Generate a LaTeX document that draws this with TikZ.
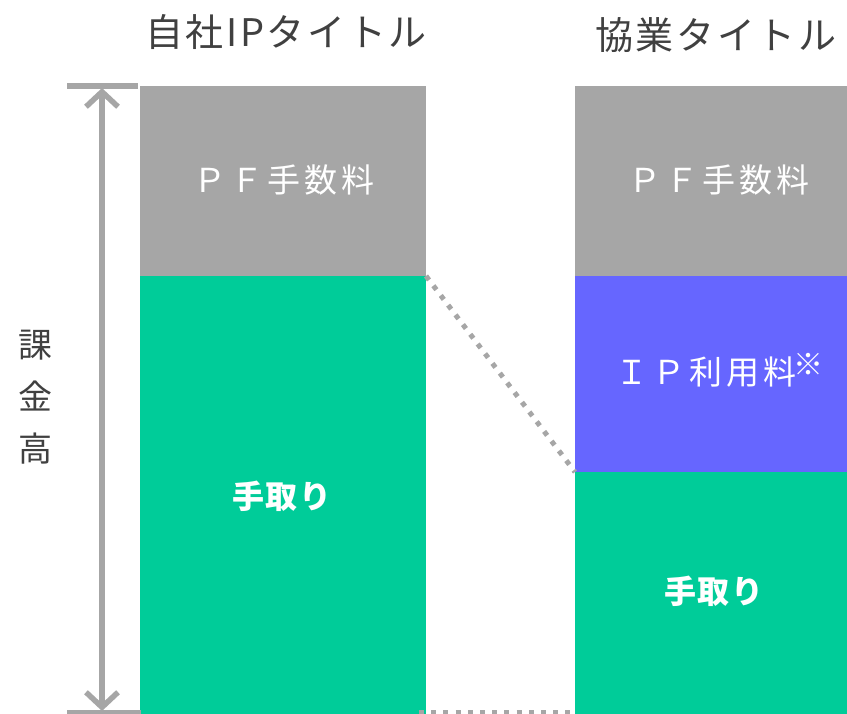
\documentclass[tikz,border=0pt]{standalone}
\usepackage{fontspec}
\setmainfont{Noto Sans CJK JP}
\usetikzlibrary{arrows.meta}
\definecolor{pfgray}{HTML}{A6A6A6}
\definecolor{takegreen}{HTML}{00CC99}
\definecolor{ipblue}{HTML}{6666FF}
\definecolor{txtgray}{HTML}{404040}
\tikzset{
  bar/.style={draw=none, inner sep=0pt, outer sep=0pt, anchor=north west},
  boxtext/.style={text=white, inner sep=0pt, font=\fontsize{33}{36}\selectfont\addfontfeature{LetterSpace=12}},
  taketext/.style={text=white, inner sep=0pt, font=\fontsize{32}{36}\selectfont\bfseries\addfontfeature{LetterSpace=4}},
  titletext/.style={text=txtgray, inner sep=0pt, font=\fontsize{38}{40}\selectfont\addfontfeature{LetterSpace=7}},
  sidetext/.style={text=txtgray, inner sep=0pt, font=\fontsize{34}{52}\selectfont, align=center},
  arrowline/.style={draw=pfgray, line width=5.5pt},
  dotline/.style={draw=pfgray, line width=5pt, dash pattern=on 5pt off 7.2pt}
}
\begin{document}
\begin{tikzpicture}[x=1pt, y=-1pt]
\useasboundingbox (0,0) rectangle (847,714);
% left column
\node[bar, fill=pfgray, minimum width=286pt, minimum height=190pt] (lpf) at (140,86) {};
\node[bar, fill=takegreen, minimum width=286pt, minimum height=438pt] (ltake) at (140,276) {};
% right column
\node[bar, fill=pfgray, minimum width=272pt, minimum height=190pt] (rpf) at (575,86) {};
\node[bar, fill=ipblue, minimum width=272pt, minimum height=196pt] (rip) at (575,276) {};
\node[bar, fill=takegreen, minimum width=272pt, minimum height=242pt] (rtake) at (575,472) {};
% texts
\node[titletext] (ltitle) at (286,32) {自社IPタイトル};
\node[titletext] (rtitle) at (716,35) {協業タイトル};
\node[boxtext] (lpft) at (284,180) {ＰＦ手数料};
\node[boxtext] (rpft) at (719,180) {ＰＦ手数料};
\node[boxtext] (ript) at (706,372) {ＩＰ利用料};
\node[text=white, inner sep=0pt, font=\fontsize{30}{30}\selectfont, anchor=west] (note) at ([xshift=-3pt,yshift=8pt]ript.east) {※};
\node[taketext] (ltaket) at (282,496) {手取り};
\node[taketext] (rtaket) at (714,591) {手取り};
\node[sidetext] (side) at (36,397) {課\\金\\高};
% arrow
\coordinate (atop) at (102,88);
\coordinate (abot) at (102,711);
\coordinate (bartl) at (67,86);
\coordinate (bartr) at (138,86);
\coordinate (barbl) at (67,713);
\coordinate (barbr) at (141,713);
\draw[draw=pfgray, line width=5.5pt] (bartl) -- (bartr);
\draw[draw=pfgray, line width=5.5pt] (barbl) -- (barbr);
\draw[arrowline, {Straight Barb[length=15pt, width=32pt]}-{Straight Barb[length=15pt, width=32pt]}] (atop) -- (abot);
% dotted connectors
\draw[dotline] (ltake.north east) -- (rtake.north west);
\coordinate (lbot) at (419,712);
\coordinate (rbot) at (574,712);
\draw[dotline] (lbot) -- (rbot);
\end{tikzpicture}
\end{document}
